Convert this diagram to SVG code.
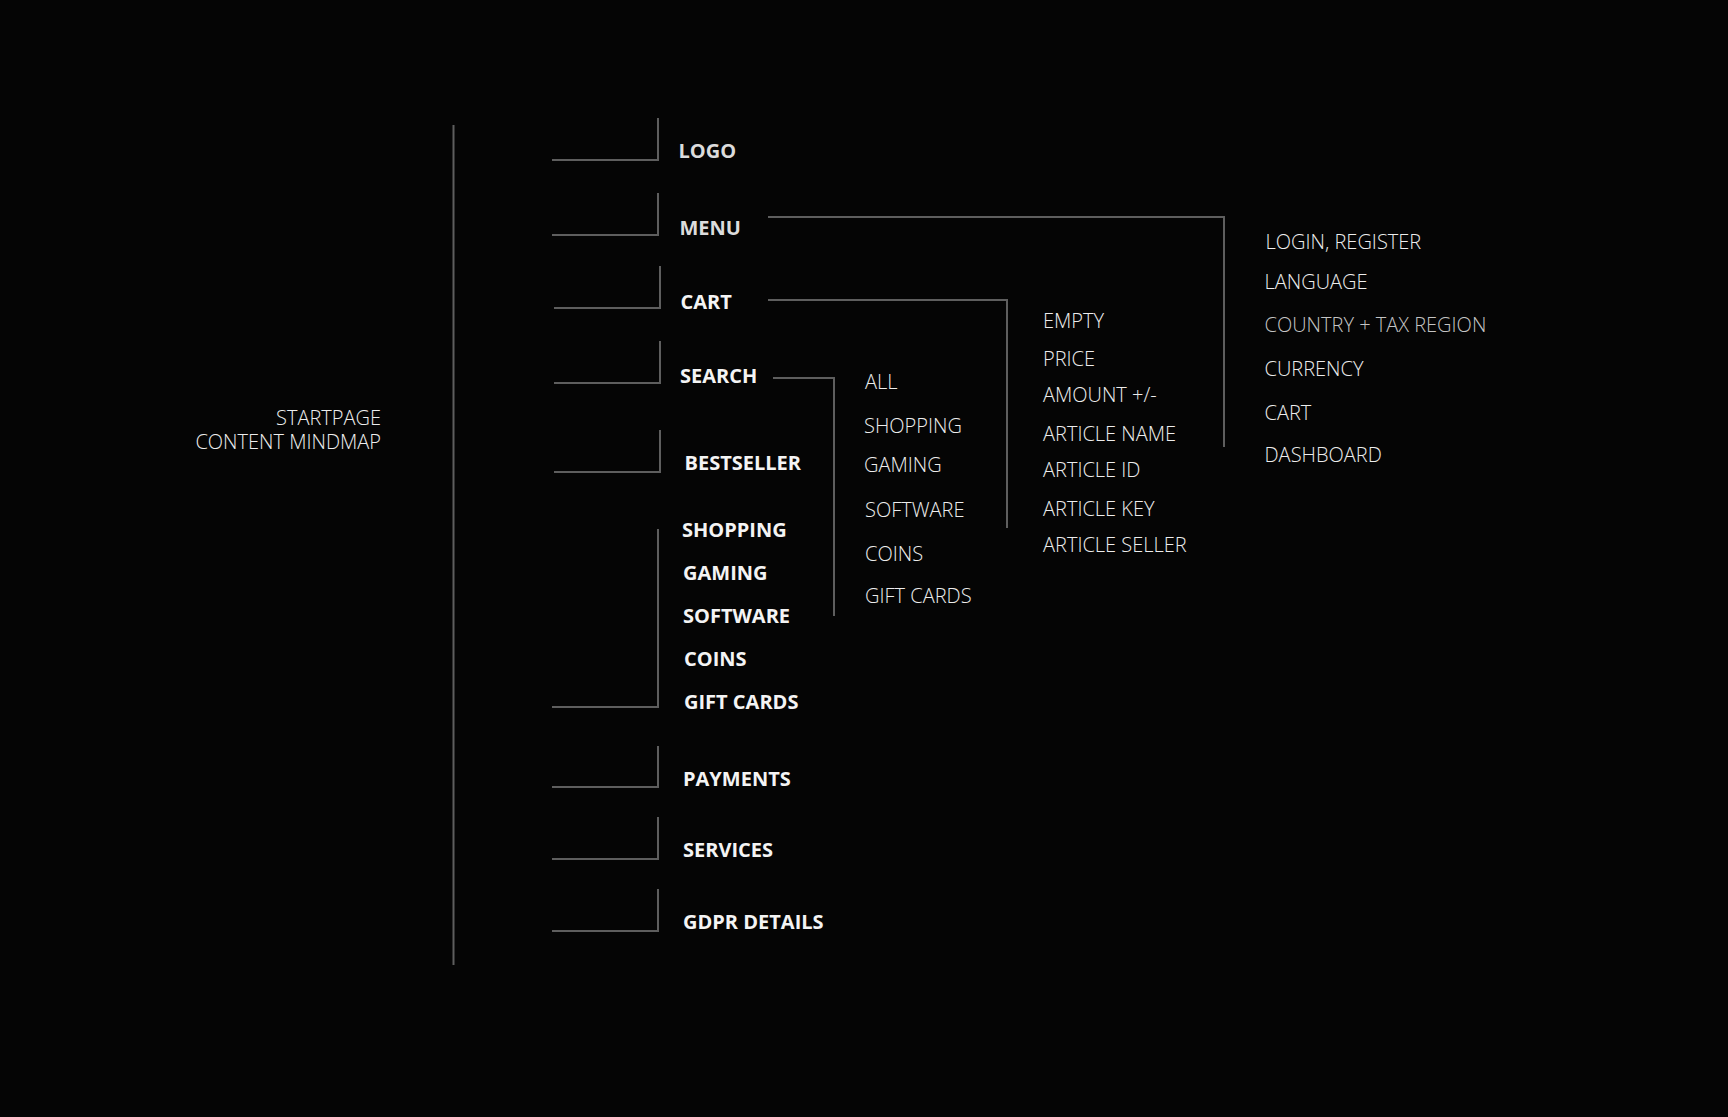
<svg xmlns="http://www.w3.org/2000/svg" width="1728" height="1117" viewBox="0 0 1728 1117">
<style>
.bg{fill:#050505}
.ln{fill:none;stroke:#5e5e5e;stroke-width:2}
.b{font-family:"Open Sans","Noto Sans",sans-serif;font-weight:700;font-size:20px;fill:#f4f4f4}
.b2{fill:#dcdcdc}
.l{font-family:"Open Sans","Noto Sans",sans-serif;font-weight:300;font-size:20px;fill:#ededed}
.dim{fill:#c4c4c4}
</style>
<rect class="bg" x="0" y="0" width="1728" height="1117"/>
<g id="connectors">
<line class="ln" x1="453.5" y1="125" x2="453.5" y2="965"/>
<polyline class="ln" points="552,160 658,160 658,118"/>
<polyline class="ln" points="552,235 658,235 658,193"/>
<polyline class="ln" points="554,308 660,308 660,266"/>
<polyline class="ln" points="554,383 660,383 660,341"/>
<polyline class="ln" points="554,472 660,472 660,430"/>
<polyline class="ln" points="552,707 658,707 658,529"/>
<polyline class="ln" points="552,787 658,787 658,746"/>
<polyline class="ln" points="552,859 658,859 658,817"/>
<polyline class="ln" points="552,931 658,931 658,889"/>
<polyline class="ln" points="768,217 1224,217 1224,447"/>
<polyline class="ln" points="768,300 1007,300 1007,528"/>
<polyline class="ln" points="773,378 834,378 834,616"/>
</g>
<g id="root"><text class="l" x="381" y="425" text-anchor="end">STARTPAGE</text><text class="l" x="381" y="449" text-anchor="end">CONTENT MINDMAP</text></g>
<g id="logo"><text class="b b2" x="678.5" y="158">LOGO</text></g>
<g id="menu"><text class="b b2" x="679.5" y="235">MENU</text></g>
<g id="cart"><text class="b" x="680.5" y="309">CART</text></g>
<g id="search"><text class="b" x="680" y="383">SEARCH</text></g>
<g id="bestseller"><text class="b" x="684.5" y="470">BESTSELLER</text></g>
<g id="categories">
<text class="b" x="682" y="537">SHOPPING</text>
<text class="b" x="683" y="580">GAMING</text>
<text class="b" x="683" y="623">SOFTWARE</text>
<text class="b" x="684" y="666">COINS</text>
<text class="b" x="684" y="709">GIFT CARDS</text>
</g>
<g id="payments"><text class="b" x="683" y="786">PAYMENTS</text></g>
<g id="services"><text class="b" x="683" y="857">SERVICES</text></g>
<g id="gdpr"><text class="b" x="683" y="929">GDPR DETAILS</text></g>
<g id="search-items">
<text class="l" x="865" y="389">ALL</text>
<text class="l" x="864" y="433">SHOPPING</text>
<text class="l" x="864" y="472">GAMING</text>
<text class="l" x="865" y="517">SOFTWARE</text>
<text class="l" x="865" y="561">COINS</text>
<text class="l" x="865" y="603">GIFT CARDS</text>
</g>
<g id="cart-items">
<text class="l" x="1043" y="328">EMPTY</text>
<text class="l" x="1043" y="366">PRICE</text>
<text class="l" x="1043" y="402">AMOUNT +/-</text>
<text class="l" x="1043" y="441">ARTICLE NAME</text>
<text class="l" x="1043" y="477">ARTICLE ID</text>
<text class="l" x="1043" y="516">ARTICLE KEY</text>
<text class="l" x="1043" y="552">ARTICLE SELLER</text>
</g>
<g id="menu-items">
<text class="l" x="1265.5" y="249">LOGIN, REGISTER</text>
<text class="l" x="1264.5" y="289">LANGUAGE</text>
<text class="l dim" x="1264.5" y="332">COUNTRY + TAX REGION</text>
<text class="l" x="1264.5" y="376">CURRENCY</text>
<text class="l" x="1264.5" y="420">CART</text>
<text class="l" x="1264.5" y="462">DASHBOARD</text>
</g>
</svg>
